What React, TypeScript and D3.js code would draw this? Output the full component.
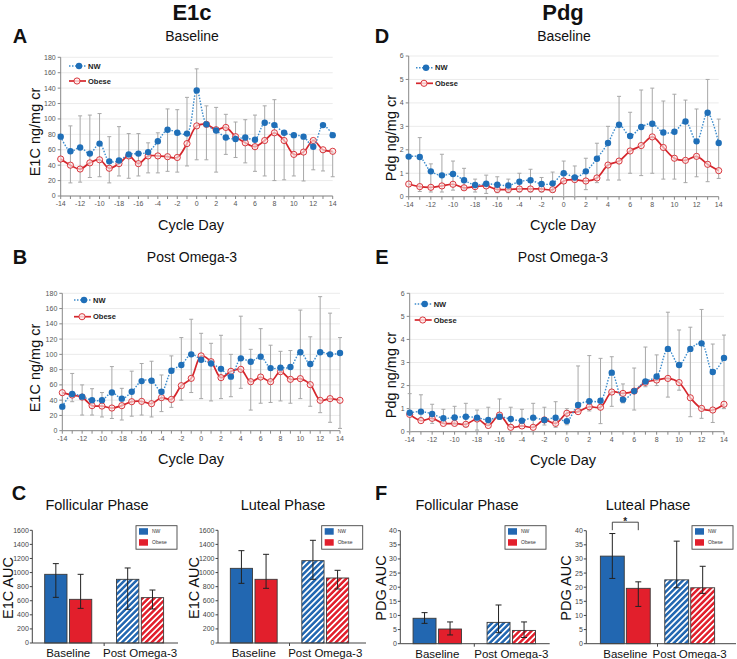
import React from "react";
import * as d3 from "d3";

const FONT = "'Liberation Sans', Arial, Helvetica, sans-serif";

// ---------- Line chart data ----------
const days = [-14, -13, -12, -11, -10, -9, -8, -7, -6, -5, -4, -3, -2, -1, 0, 1, 2, 3, 4, 5, 6, 7, 8, 9, 10, 11, 12, 13, 14];
const labelDays = [-14, -12, -10, -8, -6, -4, -2, 0, 2, 4, 6, 8, 10, 12, 14];
const dayLabels = ["-14", "-12", "-10", "-18", "-16", "-4", "-2", "0", "2", "4", "6", "8", "10", "12", "14"];

// A: E1C baseline
const aNW = [77, 58, 63, 55, 68, 45, 46, 54, 55, 57, 71, 86, 82, 81, 137, 93, 85, 76, 74, 76, 73, 95, 92, 82, 79, 77, 64, 92, 79];
const aOb = [48, 40, 35, 43, 47, 36, 42, 52, 42, 52, 52, 51, 50, 68, 91, 93, 86, 89, 77, 69, 64, 72, 82, 72, 54, 57, 72, 60, 58];
const aLo = [null, 17, 18, 24, 25, 17, 26, 23, 26, 30, 30, 32, 31, 39, 47, 47, 31, 54, 50, 43, 32, 26, 20, 21, 26, 19.5, 34, 32.5, 25];
const aHi = [null, 91, 104, 105, 107, 77, 90, 81, 81, 69, 82, 113, 112, 128, 165, 117, 115, 106, 96, 99, 105, 117, 125, 82, 79, 77, 73, 57, 57];

// D: Pdg baseline
const dNW = [1.71, 1.69, 1.08, 0.91, 0.97, 0.7, 0.5, 0.55, 0.51, 0.48, 0.64, 0.7, 0.54, 0.57, 1.0, 0.82, 1.08, 1.62, 2.29, 3.07, 2.59, 2.97, 3.11, 2.74, 2.77, 3.21, 2.36, 3.58, 2.29];
const dOb = [0.54, 0.43, 0.4, 0.46, 0.53, 0.38, 0.43, 0.46, 0.31, 0.31, 0.33, 0.33, 0.33, 0.3, 0.67, 0.73, 0.67, 0.8, 1.35, 1.52, 1.95, 2.18, 2.55, 2.1, 1.64, 1.55, 1.72, 1.38, 1.11];
const dLo = [null, 0.22, 0.2, 0.2, 0.28, 0.3, 0.2, 0.14, 0.17, 0.17, 0.2, 0.2, 0.2, 0.2, 0, 0, 0.3, 0.6, 0.71, 0.71, 1.0, 0.9, 1.0, 0.75, 0.75, 0.6, 0.85, 0.64, 0.78];
const dHi = [null, 2.52, 1.4, 1.81, 1.52, 1.21, 0.75, 0.92, 0.85, 0.75, 1.0, 1.17, 0.82, 1.05, 1.52, 1.31, 1.64, 2.28, 3.0, 4.28, 3.6, 4.55, 4.63, 4.08, 4.37, 4.12, 3.74, 5.0, 3.31];

// B: E1C post omega-3
const bNW = [31.5, 48, 44.6, 40, 40, 50, 42, 51, 65, 65.5, 51, 78.6, 86, 100, 93, 88, 81, 70.8, 94.8, 90.4, 97, 82, 82.6, 83.4, 102.7, 87.4, 102.7, 100, 101.8];
const bOb = [49.8, 46.7, 44, 32.8, 32.3, 29.7, 32.8, 38, 38.4, 35.4, 43.3, 41, 59, 68.6, 98, 90.4, 69.5, 77.8, 80.4, 64.2, 70.3, 64.2, 77.3, 67.3, 68.2, 60.3, 39.8, 42, 39.8];
const bLo = [null, 38, 20.5, 20.5, 18, 16, 14, 19, 20.5, 18, 25, 30.6, 40, 50, 42, 39, 42, 44.5, 55.5, 27, 36, 37, 39, 36, 42, 32, 23.6, 11, 3];
const bHi = [null, 75, 60, 55, 50, 84, 55.5, 78, 88, 91, 73, 98, 122, 146, 127.6, 114.5, 125, 100, 150, 106.6, 133.7, 112, 104, 105, 158, 123, 175.6, 154, 122];

// E: Pdg post omega-3
const eNW = [0.82, 0.87, 0.77, 0.58, 0.62, 0.65, 0.61, 0.51, 0.65, 0.55, 0.48, 0.61, 0.51, 0.61, 0.46, 1.16, 1.32, 1.34, 2.56, 1.39, 1.76, 2.18, 2.39, 3.59, 2.89, 3.59, 3.83, 2.59, 3.2];
const eOb = [0.75, 0.48, 0.58, 0.36, 0.36, 0.32, 0.55, 0.27, 0.72, 0.19, 0.25, 0.19, 0.51, 0.36, 0.8, 0.87, 1.08, 1.06, 1.72, 1.66, 1.76, 2.14, 2.24, 2.31, 2.13, 1.47, 1.01, 0.94, 1.19];
const eLo = [0, 0.6, 0.36, 0.36, 0.3, 0.22, 0.07, 0.33, 0.53, 0.29, 0.22, 0.19, 0.29, 0.19, 0.3, 0.85, 0.9, 0.35, 1.1, 1.25, 0.94, 1.95, 2.0, 1.5, 1.8, 0.65, 0.58, 0.4, 1.0];
const eHi = [1.65, 1.6, 1.19, 0.97, 1.1, 1.23, 0.94, 1.06, 1.42, 1.06, 0.97, 1.23, 1.06, 1.3, 1.0, 2.85, 3.3, 3.18, 3.25, 2.07, 2.76, 3.67, 3.33, 5.18, 4.41, 4.53, 5.3, 3.8, 4.19];

// ---------- Bar chart data ----------
const groups = ["Baseline", "Post Omega-3"];
const seriesNames = ["NW", "Obese"];

const cFolNW = [975, 904]; const cFolNWLo = [648, 478]; const cFolNWHi = [1127, 1065];
const cFolOb = [620, 644]; const cFolObLo = [492, 483]; const cFolObHi = [975, 752];
const cLutNW = [1060, 1169]; const cLutNWLo = [847, 904]; const cLutNWHi = [1311, 1458];
const cLutOb = [904, 923]; const cLutObLo = [776, 767]; const cLutObHi = [1259, 1032];

const fFolNW = [9.0, 7.55]; const fFolNWLo = [7.2, 3.9]; const fFolNWHi = [11.0, 13.7];
const fFolOb = [5.2, 4.7]; const fFolObLo = [3.1, 2.2]; const fFolObHi = [7.7, 7.7];
const fLutNW = [31.0, 22.6]; const fLutNWLo = [23.1, 19.8]; const fLutNWHi = [39.0, 36.3];
const fLutOb = [19.6, 19.8]; const fLutObLo = [13.2, 17.8]; const fLutObHi = [21.9, 27.4];

const BLUE = "#2267b1";
const RED = "#e21f2c";
const LBLUE = "#1f6fb8";
const LRED = "#d5262c";

type LP = {
  x0: number; x1: number; yTop: number; yBot: number; yMax: number; yStep: number;
  nw: number[]; ob: number[]; lo: (number | null)[]; hi: (number | null)[];
  lx: number; ly1: number; ly2: number; ylabel: string; ylx: number; yly: number;
};

function LinePanel(p: LP) {
  const x = d3.scaleLinear().domain([-14, 14]).range([p.x0, p.x1]);
  const y = d3.scaleLinear().domain([0, p.yMax]).range([p.yBot, p.yTop]);
  const yTicks = d3.range(0, p.yMax + p.yStep / 2, p.yStep);
  const line = d3
    .line<number>()
    .x((_, i) => x(days[i]))
    .y((d) => y(d))
    .curve(d3.curveCatmullRom.alpha(0.5));
  return (
    <g>
      {yTicks.map((t) => (
        <line key={"g" + t} x1={p.x0} x2={p.x1} y1={y(t)} y2={y(t)} stroke="#e6e6e6" strokeWidth={0.8} />
      ))}
      <line x1={p.x0} x2={p.x0} y1={p.yBot} y2={p.yTop} stroke="#888" strokeWidth={1} />
      <line x1={p.x0} x2={p.x1} y1={p.yBot} y2={p.yBot} stroke="#888" strokeWidth={1} />
      {yTicks.map((t) => (
        <g key={"yt" + t}>
          <line x1={p.x0 - 3} x2={p.x0} y1={y(t)} y2={y(t)} stroke="#888" />
          <text x={p.x0 - 5} y={y(t)} dy="0.35em" textAnchor="end" fontSize={7} fill="#555" fontFamily={FONT}>
            {String(t)}
          </text>
        </g>
      ))}
      {days.map((d) => (
        <line key={"xt" + d} x1={x(d)} x2={x(d)} y1={p.yBot} y2={p.yBot + 3} stroke="#888" />
      ))}
      {labelDays.map((d, i) => (
        <text key={"xl" + d} x={x(d)} y={p.yBot + 10} textAnchor="middle" fontSize={7} fill="#555" fontFamily={FONT}>
          {dayLabels[i]}
        </text>
      ))}
      {days.map((d, i) => {
        const lo = p.lo[i];
        const hi = p.hi[i];
        if (lo == null || hi == null) return null;
        return (
          <g key={"e" + d} stroke="#a8a8a8" strokeWidth={1}>
            <line x1={x(d)} x2={x(d)} y1={y(lo)} y2={y(hi)} />
            <line x1={x(d) - 2} x2={x(d) + 2} y1={y(lo)} y2={y(lo)} />
            <line x1={x(d) - 2} x2={x(d) + 2} y1={y(hi)} y2={y(hi)} />
          </g>
        );
      })}
      <path d={line(p.ob) || ""} fill="none" stroke={LRED} strokeWidth={1.7} />
      {p.ob.map((v, i) => (
        <circle key={"o" + i} cx={x(days[i])} cy={y(v)} r={3.1} fill="rgba(255,235,235,0.6)" stroke={LRED} strokeWidth={0.9} />
      ))}
      <path d={line(p.nw) || ""} fill="none" stroke="#3d8ccc" strokeWidth={1.4} strokeDasharray="1.5,1.5" />
      {p.nw.map((v, i) => (
        <circle key={"n" + i} cx={x(days[i])} cy={y(v)} r={3.2} fill={LBLUE} />
      ))}
      {/* legend */}
      <line x1={p.lx} x2={p.lx + 17} y1={p.ly1} y2={p.ly1} stroke="#3d8ccc" strokeWidth={1.4} strokeDasharray="1.5,1.5" />
      <circle cx={p.lx + 10} cy={p.ly1} r={3.2} fill={LBLUE} />
      <text x={p.lx + 19} y={p.ly1} dy="0.35em" fontSize={7.5} fontWeight="bold" fill="#222" fontFamily={FONT}>NW</text>
      <line x1={p.lx} x2={p.lx + 17} y1={p.ly2} y2={p.ly2} stroke={LRED} strokeWidth={1.7} />
      <circle cx={p.lx + 8} cy={p.ly2} r={3.1} fill="rgba(255,235,235,0.8)" stroke={LRED} strokeWidth={0.9} />
      <text x={p.lx + 19} y={p.ly2} dy="0.35em" fontSize={7.5} fontWeight="bold" fill="#222" fontFamily={FONT}>Obese</text>
      <text transform={`translate(${p.ylx},${p.yly}) rotate(-90)`} textAnchor="middle" fontSize={14.5} fill="#111" fontFamily={FONT}>
        {p.ylabel}
      </text>
    </g>
  );
}

type BP = {
  x0: number; x1: number; r0: number; r1: number; pi: number; po: number;
  yTop: number; yBot: number; yMax: number; yStep: number;
  nw: number[]; nwLo: number[]; nwHi: number[]; ob: number[]; obLo: number[]; obHi: number[];
  legX: number; legY: number; ylabel: string; ylx: number; yly: number; sig?: boolean;
};

function BarPanel(p: BP) {
  const y = d3.scaleLinear().domain([0, p.yMax]).range([p.yBot, p.yTop]);
  const yTicks = d3.range(0, p.yMax + p.yStep / 2, p.yStep);
  const gx = d3.scaleBand().domain(groups).range([p.r0, p.r1]);
  const sx = d3.scaleBand().domain(seriesNames).range([0, gx.bandwidth()]).paddingInner(p.pi).paddingOuter(p.po);
  const rows = groups.flatMap((g, gi) => [
    { g, gi, s: "NW", v: p.nw[gi], lo: p.nwLo[gi], hi: p.nwHi[gi], color: BLUE, pat: "hatchBlue" },
    { g, gi, s: "Obese", v: p.ob[gi], lo: p.obLo[gi], hi: p.obHi[gi], color: RED, pat: "hatchRed" },
  ]);
  const bw = sx.bandwidth();
  const sepX = (gx("Baseline")! + gx.bandwidth() + gx("Post Omega-3")!) / 2;
  const nwC = gx("Baseline")! + sx("NW")! + bw / 2;
  const obC = gx("Baseline")! + sx("Obese")! + bw / 2;
  return (
    <g fontFamily={FONT}>
      {rows.map((r) => {
        const bx = gx(r.g)! + sx(r.s)!;
        const cx = bx + bw / 2;
        return (
          <g key={r.g + r.s}>
            <rect x={bx} y={y(r.v)} width={bw} height={p.yBot - y(r.v)} fill={r.gi === 0 ? r.color : `url(#${r.pat})`} stroke="#3a3a3a" strokeWidth={0.9} />
            <g stroke="#222" strokeWidth={1}>
              <line x1={cx} x2={cx} y1={y(r.lo)} y2={y(r.hi)} />
              <line x1={cx - 3} x2={cx + 3} y1={y(r.lo)} y2={y(r.lo)} />
              <line x1={cx - 3} x2={cx + 3} y1={y(r.hi)} y2={y(r.hi)} />
            </g>
          </g>
        );
      })}
      <line x1={p.x0} x2={p.x0} y1={p.yBot} y2={p.yTop} stroke="#444" strokeWidth={1} />
      <line x1={p.x0} x2={p.x1} y1={p.yBot} y2={p.yBot} stroke="#444" strokeWidth={1} />
      <line x1={sepX} x2={sepX} y1={p.yBot} y2={p.yBot + 3} stroke="#444" />
      {yTicks.map((t) => (
        <g key={"t" + t}>
          <line x1={p.x0 - 2.5} x2={p.x0} y1={y(t)} y2={y(t)} stroke="#444" />
          <text x={p.x0 - 3.5} y={y(t)} dy="0.35em" textAnchor="end" fontSize={7} fill="#444">{t}</text>
        </g>
      ))}
      {groups.map((g) => (
        <text key={g} x={gx(g)! + gx.bandwidth() / 2} y={p.yBot + 14} textAnchor="middle" fontSize={11.5} fill="#111">{g}</text>
      ))}
      <rect x={p.legX} y={p.legY} width={41} height={23.5} fill="#fff" stroke="#444" strokeWidth={0.9} />
      <rect x={p.legX + 3} y={p.legY + 2.5} width={9} height={6.5} fill={BLUE} />
      <text x={p.legX + 16} y={p.legY + 5.8} dy="0.35em" fontSize={5} fill="#333">NW</text>
      <rect x={p.legX + 3} y={p.legY + 13.5} width={9} height={6.5} fill={RED} />
      <text x={p.legX + 16} y={p.legY + 16.8} dy="0.35em" fontSize={5} fill="#333">Obese</text>
      <text transform={`translate(${p.ylx},${p.yly}) rotate(-90)`} textAnchor="middle" fontSize={14.5} fill="#111">{p.ylabel}</text>
      {p.sig && (
        <g>
          <path d={`M${nwC},${p.yTop - 0.5}V${p.yTop - 8.5}H${obC}V${p.yTop - 0.5}`} fill="none" stroke="#333" strokeWidth={0.9} />
          <text x={(nwC + obC) / 2} y={p.yTop - 5.5} textAnchor="middle" fontSize={10} fontWeight="bold" fill="#222">*</text>
        </g>
      )}
    </g>
  );
}

const T = (props: { x: number; y: number; size: number; bold?: boolean; children: React.ReactNode }) => (
  <text x={props.x} y={props.y} textAnchor="middle" fontSize={props.size} fontWeight={props.bold ? "bold" : "normal"} fill="#111" fontFamily={FONT}>
    {props.children}
  </text>
);

export default function App() {
  return (
    <svg width={737} height={659} style={{ position: "absolute", left: 0, top: 0, background: "#fff" }}>
      <defs>
        <pattern id="hatchBlue" patternUnits="userSpaceOnUse" width={4.2} height={4.2} patternTransform="rotate(45)">
          <rect width={4.2} height={4.2} fill={BLUE} />
          <rect x={0} y={0} width={1.7} height={4.2} fill="#fff" />
        </pattern>
        <pattern id="hatchRed" patternUnits="userSpaceOnUse" width={4.2} height={4.2} patternTransform="rotate(45)">
          <rect width={4.2} height={4.2} fill={RED} />
          <rect x={0} y={0} width={1.7} height={4.2} fill="#fff" />
        </pattern>
      </defs>
      <rect width={737} height={659} fill="#fff" />

      <T x={192} y={20} size={22} bold>E1c</T>
      <T x={563} y={20} size={22} bold>Pdg</T>

      <T x={20} y={43} size={20} bold>A</T>
      <T x={192} y={41} size={14}>Baseline</T>
      <T x={191} y={230} size={14.5}>Cycle Day</T>
      <T x={20} y={264} size={20} bold>B</T>
      <T x={192} y={262} size={14}>Post Omega-3</T>
      <T x={191} y={464} size={14.5}>Cycle Day</T>

      <T x={382} y={43} size={20} bold>D</T>
      <T x={564} y={41} size={14}>Baseline</T>
      <T x={563} y={230} size={14.5}>Cycle Day</T>
      <T x={382} y={264} size={20} bold>E</T>
      <T x={563} y={262} size={14}>Post Omega-3</T>
      <T x={563} y={465} size={14.5}>Cycle Day</T>

      <T x={19} y={500} size={20} bold>C</T>
      <T x={97} y={510} size={14.5}>Follicular Phase</T>
      <T x={283} y={510} size={14.5}>Luteal Phase</T>
      <T x={381} y={500} size={20} bold>F</T>
      <T x={467} y={510} size={14.5}>Follicular Phase</T>
      <T x={648} y={510} size={14.5}>Luteal Phase</T>

      <LinePanel x0={60.7} x1={332.7} yTop={57.3} yBot={196} yMax={180} yStep={20}
        nw={aNW} ob={aOb} lo={aLo} hi={aHi} lx={69} ly1={66} ly2={81}
        ylabel="E1C ng/mg cr" ylx={40} yly={132} />
      <LinePanel x0={408.7} x1={718.7} yTop={56} yBot={196.7} yMax={6} yStep={1}
        nw={dNW} ob={dOb} lo={dLo} hi={dHi} lx={416} ly1={67.7} ly2={83.3}
        ylabel="Pdg ng/mg cr" ylx={396} yly={138} />
      <LinePanel x0={62.3} x1={340} yTop={293.3} yBot={430.7} yMax={180} yStep={20}
        nw={bNW} ob={bOb} lo={bLo} hi={bHi} lx={74} ly1={300} ly2={316.7}
        ylabel="E1C ng/mg cr" ylx={40} yly={368} />
      <LinePanel x0={409.7} x1={724} yTop={293.3} yBot={431.7} yMax={6} yStep={1}
        nw={eNW} ob={eOb} lo={eLo} hi={eHi} lx={414.7} ly1={304} ly2={320}
        ylabel="Pdg ng/mg cr" ylx={396} yly={375} />

      <BarPanel x0={32.3} x1={178} r0={32.3} r1={176} pi={0.1} po={0.5} yTop={530.3} yBot={643} yMax={1600} yStep={200}
        nw={cFolNW} nwLo={cFolNWLo} nwHi={cFolNWHi} ob={cFolOb} obLo={cFolObLo} obHi={cFolObHi}
        legX={136} legY={525.7} ylabel="E1C AUC" ylx={13} yly={588} />
      <BarPanel x0={218} x1={366} r0={218} r1={361} pi={0.1} po={0.5} yTop={530.3} yBot={643} yMax={1600} yStep={200}
        nw={cLutNW} nwLo={cLutNWLo} nwHi={cLutNWHi} ob={cLutOb} obLo={cLutObLo} obHi={cLutObHi}
        legX={321.7} legY={525.7} ylabel="E1C AUC" ylx={199} yly={588} />
      <BarPanel x0={400.3} x1={549.7} r0={400.3} r1={548.3} pi={0.1} po={0.5} yTop={530.7} yBot={643.7} yMax={40} yStep={5}
        nw={fFolNW} nwLo={fFolNWLo} nwHi={fFolNWHi} ob={fFolOb} obLo={fFolObLo} obHi={fFolObHi}
        legX={505} legY={525.7} ylabel="PDG AUC" ylx={386} yly={588} />
      <BarPanel x0={586.3} x1={736} r0={593.1} r1={721.9} pi={0.08} po={0.28} yTop={530.7} yBot={643.7} yMax={40} yStep={5}
        nw={fLutNW} nwLo={fLutNWLo} nwHi={fLutNWHi} ob={fLutOb} obLo={fLutObLo} obHi={fLutObHi}
        legX={692} legY={525.7} ylabel="PDG AUC" ylx={571} yly={588} sig />
    </svg>
  );
}
